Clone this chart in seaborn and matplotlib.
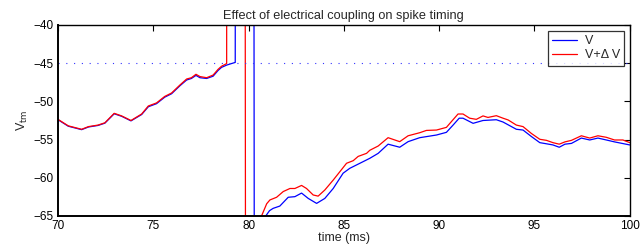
import matplotlib
matplotlib.use("Agg")
import matplotlib.pyplot as plt
import pandas as pd
import seaborn as sns

# membrane potential V (blue); spike runs off the axes
t_v = [70.0, 70.54, 71.24, 71.6, 72.1, 72.46, 72.95, 73.34, 73.83, 74.39,
       74.74, 75.17, 75.6, 75.96, 76.4, 76.75, 77.0, 77.24, 77.45, 77.8,
       78.14, 78.4, 78.58, 78.85, 79.1, 79.3, 79.32, 80.26, 80.3, 80.65,
       80.9, 81.1, 81.29, 81.64, 82.08, 82.43, 82.78, 83.13, 83.57, 84.0,
       84.44, 84.96, 85.31, 85.84, 86.36, 86.8, 87.32, 87.93, 88.37, 88.98,
       89.86, 90.38, 90.73, 91.05, 91.25, 91.78, 92.3, 93.0, 93.35, 94.05,
       94.4, 94.84, 95.28, 95.63, 95.97, 96.3, 96.6, 96.94, 97.46, 97.9,
       98.33, 98.77, 99.2, 100.0]
v_v = [-52.4, -53.25, -53.7, -53.35, -53.15, -52.85, -51.62, -51.95, -52.55, -51.72,
       -50.7, -50.3, -49.45, -49.0, -47.95, -47.2, -47.0, -46.6, -46.9, -47.0,
       -46.7, -45.95, -45.55, -45.25, -45.05, -44.9, 20.0, 20.0, -75.0, -69.0,
       -65.0, -64.3, -64.0, -63.7, -62.55, -62.47, -62.0, -62.7, -63.35, -62.7,
       -61.4, -59.4, -58.76, -58.1, -57.45, -56.8, -55.6, -56.0, -55.27, -54.75,
       -54.4, -54.05, -53.1, -52.2, -52.2, -52.87, -52.5, -52.4, -52.7, -53.65,
       -53.75, -54.6, -55.4, -55.55, -55.7, -56.0, -55.6, -55.5, -54.8, -55.05,
       -54.8, -55.05, -55.3, -55.7]

# V + delta V (red)
t_dv = [70.0, 70.54, 71.24, 71.6, 72.1, 72.46, 72.95, 73.34, 73.83, 74.39,
        74.74, 75.17, 75.6, 75.96, 76.4, 76.75, 77.0, 77.24, 77.45, 77.8,
        78.14, 78.4, 78.58, 78.85, 78.86, 79.8, 79.84, 80.4, 80.68, 80.95,
        81.12, 81.47, 81.82, 82.17, 82.43, 82.78, 83.04, 83.39, 83.65, 84.0,
        84.44, 84.79, 85.14, 85.49, 85.75, 86.19, 86.36, 86.8, 87.32, 87.93,
        88.37, 88.98, 89.33, 89.86, 90.38, 90.64, 90.99, 91.25, 91.6, 91.95,
        92.3, 92.56, 93.0, 93.35, 93.62, 94.05, 94.4, 94.84, 95.28, 95.63,
        95.97, 96.3, 96.6, 96.94, 97.46, 97.9, 98.33, 98.77, 99.2, 99.64, 100.0]
v_dv = [-52.35, -53.2, -53.65, -53.3, -53.1, -52.8, -51.56, -51.9, -52.5, -51.65,
        -50.6, -50.2, -49.35, -48.9, -47.85, -47.07, -46.9, -46.45, -46.75, -46.9,
        -46.55, -45.8, -45.4, -45.05, 20.0, 20.0, -75.0, -70.0, -65.0, -63.4,
        -62.9, -62.55, -61.8, -61.4, -61.4, -61.0, -61.4, -62.25, -62.4, -61.6,
        -60.3, -59.2, -58.1, -57.76, -57.2, -56.8, -56.4, -55.84, -54.75, -55.27,
        -54.5, -54.1, -53.8, -53.75, -53.4, -52.65, -51.65, -51.65, -52.2, -52.35,
        -51.9, -52.1, -51.87, -52.2, -52.43, -53.1, -53.3, -54.2, -54.96, -55.1,
        -55.4, -55.6, -55.3, -55.1, -54.5, -54.8, -54.5, -54.7, -55.05, -55.05, -55.4]

labels = ['V', 'V+\u0394 V']
threshold = -45

df = pd.concat([
    pd.DataFrame({'t': t_v, 'v': v_v, 'trace': labels[0]}),
    pd.DataFrame({'t': t_dv, 'v': v_dv, 'trace': labels[1]}),
])

sns.set_style('white')
plt.rcParams['font.family'] = ['Liberation Sans', 'DejaVu Sans']
plt.rcParams['font.size'] = 9
plt.rcParams['axes.unicode_minus'] = True

fig = plt.figure(figsize=(6.4, 2.52), dpi=100)
ax = fig.add_axes([0.0906, 0.1429, 0.8934, 0.7579])

sns.lineplot(data=df, x='t', y='v', hue='trace', hue_order=labels,
             palette=['#0000ff', '#ff0000'], estimator=None, sort=False,
             linewidth=0.9, ax=ax)
ax.axhline(threshold, color='#3333ff', linestyle=(0, (1, 6)), linewidth=0.8)

ax.set_xlim(70, 100)
ax.set_ylim(-65, -40)
ax.set_xticks(range(70, 101, 5))
ax.set_yticks(range(-65, -39, 5))
ax.tick_params(direction='in', length=4, width=0.8, top=True, right=True,
               labelsize=8.5, colors='black', pad=3)
for s in ax.spines.values():
    s.set_color('black')
    s.set_linewidth(1.0)
ax.spines['left'].set_linewidth(1.4)
ax.spines['bottom'].set_linewidth(1.4)

ax.set_xlabel('time (ms)', fontsize=9, labelpad=0)
ax.set_ylabel('V$_{\\rm tm}$', fontsize=9, labelpad=3)
ax.set_title('Effect of electrical coupling on spike timing', fontsize=9.2, pad=4)

leg = ax.legend(loc='upper right', fontsize=9, frameon=True, fancybox=False,
                handlelength=2.0, borderaxespad=0.45, borderpad=0.35,
                labelspacing=0.2, handletextpad=0.6)
leg.get_frame().set_edgecolor('black')
leg.get_frame().set_linewidth(0.9)

fig.savefig('out.png', dpi=100)
